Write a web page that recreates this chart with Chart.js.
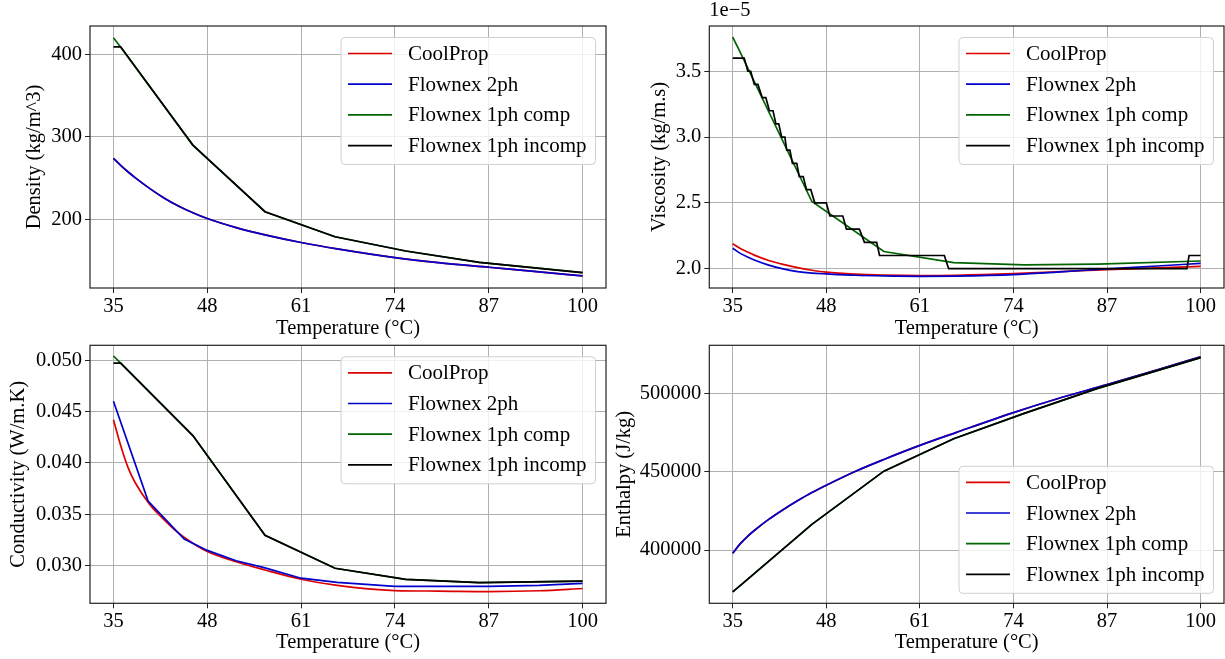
<!DOCTYPE html>
<html>
<head>
<meta charset="utf-8">
<script src="https://cdn.jsdelivr.net/npm/chart.js@4.4.1/dist/chart.umd.min.js"></script>
<style>
  html, body { margin: 0; padding: 0; background: #fff; }
  #wrap { position: relative; width: 1225px; height: 659px; overflow: hidden; }
  canvas { position: absolute; }
</style>
</head>
<body>
<div id="wrap">
  <canvas id="density" width="612" height="345" style="left:0;top:0"></canvas>
  <canvas id="viscosity" width="613" height="345" style="left:612px;top:0"></canvas>
  <canvas id="conductivity" width="612" height="329" style="left:0;top:330px"></canvas>
  <canvas id="enthalpy" width="613" height="329" style="left:612px;top:330px"></canvas>
</div>
<script>
/* temperatures (°C) */
const tempTicks = [35, 48, 61, 74, 87, 100];
const tCurve = [35, 36, 37, 38, 40, 42, 44, 46, 48, 52, 56, 61, 66, 74, 80, 87, 94, 100];
const t1ph = [35, 36, 46, 56, 65.7, 75.5, 85.7, 100];

/* density (kg/m^3) */
const densTicks = [200, 300, 400];
const densCoolProp = [274, 265.5, 257.7, 250.6, 237.6, 226, 216.2, 208, 201, 190, 181.2, 172, 164.3, 153.7, 147.6, 142, 136.5, 131.5];
const dens2ph = [274, 265.5, 257.7, 250.6, 237.6, 226, 216.2, 208, 201, 190, 181.2, 172, 164.3, 153.7, 147.6, 142, 136.5, 131.5];
const dens1phComp = [420, 408.5, 290, 209.3, 179, 161.7, 148, 135.5];
const dens1phIncomp = [409, 409, 290, 209.3, 179, 161.7, 148, 135.5];

/* viscosity (x 1e-5 kg/m.s) */
const viscTicks = [2.0, 2.5, 3.0, 3.5];
const viscCoolProp = [2.19, 2.155, 2.128, 2.103, 2.062, 2.032, 2.008, 1.988, 1.973, 1.958, 1.951, 1.948, 1.95, 1.962, 1.976, 1.993, 2.006, 2.018];
const visc2ph = [2.155, 2.118, 2.09, 2.066, 2.027, 1.998, 1.978, 1.966, 1.96, 1.95, 1.945, 1.942, 1.944, 1.955, 1.974, 1.998, 2.02, 2.04];
const visc1phComp = [3.76, 3.65, 2.51, 2.13, 2.046, 2.028, 2.035, 2.058];
const viscIncompT = [35, 36.6, 37.1, 37.5, 38.0, 38.5, 39.1, 39.6, 40.1, 40.6, 41.0, 41.4, 41.8, 42.25, 42.5, 42.95, 43.3, 43.9, 44.25, 44.8, 45.25, 45.85, 46.4, 48.0, 48.5, 50.3, 50.8, 52.6, 53.3, 55.0, 55.4, 64.4, 65.0, 98.1, 98.4, 100];
const visc1phIncomp = [3.6, 3.6, 3.5, 3.5, 3.4, 3.4, 3.3, 3.3, 3.2, 3.2, 3.1, 3.1, 3.0, 3.0, 2.9, 2.9, 2.8, 2.8, 2.7, 2.7, 2.6, 2.6, 2.5, 2.5, 2.4, 2.4, 2.3, 2.3, 2.2, 2.2, 2.1, 2.1, 2.0, 2.0, 2.1, 2.1];

/* conductivity (W/m.K) */
const condTicks = [0.030, 0.035, 0.040, 0.045, 0.050];
const condCoolProp = [0.0442, 0.0417, 0.0396, 0.0381, 0.036, 0.0345, 0.0332, 0.0322, 0.0314, 0.0304, 0.0296, 0.0287, 0.0281, 0.0276, 0.02755, 0.0275, 0.02758, 0.0278];
const cond2phT = [35, 39.8, 44.8, 48, 52, 56, 61, 66, 74, 80, 87, 94, 100];
const cond2ph = [0.046, 0.0363, 0.0326, 0.0315, 0.0305, 0.0298, 0.0288, 0.0284, 0.028, 0.028, 0.028, 0.0281, 0.0283];
const cond1phComp = [0.0504, 0.0497, 0.04266, 0.03297, 0.02977, 0.02869, 0.02837, 0.02852];
const cond1phIncomp = [0.0497, 0.0497, 0.04266, 0.03297, 0.02977, 0.02869, 0.02837, 0.02852];

/* enthalpy (J/kg) */
const enthTicks = [400000, 450000, 500000];
const enthCoolProp = [397900, 403800, 408500, 412500, 419600, 425800, 431500, 436800, 441500, 450300, 458000, 467000, 475200, 488000, 496700, 505900, 515400, 523800];
const enth2ph = [397900, 403800, 408500, 412500, 419600, 425800, 431500, 436800, 441500, 450300, 458000, 467000, 475200, 488000, 496700, 505900, 515400, 523800];
const enth1phComp = [373200, 377100, 416400, 450500, 471300, 487500, 503500, 523200];
const enth1phIncomp = [373200, 377100, 416400, 450500, 471300, 487500, 503500, 523200];

const FONT = 'Liberation Serif, Times New Roman, serif';
const colors = ['#dd0000', '#0000cd', '#006400', '#000000'];
const names = ['CoolProp', 'Flownex 2ph', 'Flownex 1ph comp', 'Flownex 1ph incomp'];

function pts(xs, ys) {
  return xs.map((x, i) => ({ x: x, y: ys[i] }));
}

function series(i, xs, ys, smooth) {
  return {
    label: names[i],
    data: pts(xs, ys),
    borderColor: colors[i],
    backgroundColor: colors[i],
    borderWidth: 1.7,
    pointRadius: 0,
    cubicInterpolationMode: smooth ? 'monotone' : 'default',
    tension: 0,
    order: 4 - i
  };
}

/* frame, legend box and offset text, drawn like matplotlib */
const mplExtras = {
  id: 'mplExtras',
  afterDatasetsDraw(chart, args, opts) {
    const ctx = chart.ctx;
    const a = chart.chartArea;
    ctx.save();
    ctx.strokeStyle = '#222';
    ctx.lineWidth = 1.2;
    ctx.strokeRect(a.left, a.top, a.right - a.left, a.bottom - a.top);

    if (opts.offsetText) {
      ctx.font = '20.5px ' + FONT;
      ctx.fillStyle = '#000';
      ctx.textAlign = 'left';
      ctx.textBaseline = 'alphabetic';
      ctx.fillText(opts.offsetText, a.left, a.top - 10.5);
    }

    ctx.font = '21px ' + FONT;
    const dsets = chart.data.datasets;
    let tw = 0;
    dsets.forEach(d => { tw = Math.max(tw, ctx.measureText(d.label).width); });
    const w = 67 + tw + 9;
    const h = 127;
    const x0 = a.right - 10.5 - w;
    const y0 = opts.where === 'lower' ? a.bottom - 10 - h : a.top + 11.5;
    ctx.beginPath();
    ctx.roundRect(x0, y0, w, h, 4);
    ctx.fillStyle = 'rgba(255,255,255,0.8)';
    ctx.fill();
    ctx.strokeStyle = '#d0d0d0';
    ctx.lineWidth = 1;
    ctx.stroke();
    ctx.textAlign = 'left';
    ctx.textBaseline = 'middle';
    dsets.forEach((d, i) => {
      const y = y0 + 16 + i * 30.7;
      ctx.beginPath();
      ctx.moveTo(x0 + 7, y);
      ctx.lineTo(x0 + 51, y);
      ctx.strokeStyle = d.borderColor;
      ctx.lineWidth = 1.7;
      ctx.stroke();
      ctx.fillStyle = '#000';
      ctx.fillText(d.label, x0 + 67, y + 1);
    });
    ctx.restore();
  }
};

function makeChart(id, cfg) {
  new Chart(document.getElementById(id), {
    type: 'line',
    data: { datasets: cfg.datasets },
    options: {
      responsive: false,
      animation: false,
      events: [],
      layout: { padding: { top: cfg.top, right: cfg.right, left: 0, bottom: 0 } },
      plugins: {
        legend: { display: false },
        tooltip: { enabled: false },
        mplExtras: { where: cfg.legendAt, offsetText: cfg.offsetText }
      },
      scales: {
        x: {
          type: 'linear',
          min: 31.75,
          max: 103.25,
          afterBuildTicks: s => { s.ticks = tempTicks.map(v => ({ value: v })); },
          afterFit: s => { s.height = cfg.xh; },
          grid: { color: '#b0b0b0', lineWidth: 1, tickColor: '#222', tickLength: 5 },
          border: { display: false },
          ticks: { color: '#000', font: { family: FONT, size: 20.5 }, padding: 1, maxRotation: 0 },
          title: { display: true, text: 'Temperature (°C)', color: '#000', font: { family: FONT, size: 20.5 }, padding: { top: 0, bottom: 4 } }
        },
        y: {
          type: 'linear',
          min: cfg.ymin,
          max: cfg.ymax,
          afterBuildTicks: s => { s.ticks = cfg.yticks.map(v => ({ value: v })); },
          afterFit: s => { s.width = cfg.yw; },
          grid: { color: '#b0b0b0', lineWidth: 1, tickColor: '#222', tickLength: 5 },
          border: { display: false },
          ticks: { color: '#000', font: { family: FONT, size: 20.5 }, padding: 3, callback: cfg.fmt },
          title: { display: true, text: cfg.ytitle, color: '#000', font: { family: FONT, size: 20.5 }, padding: { top: cfg.ytp, bottom: 0 } }
        }
      }
    },
    plugins: [mplExtras]
  });
}

makeChart('density', {
  datasets: [
    series(0, tCurve, densCoolProp, true),
    series(1, tCurve, dens2ph, true),
    series(2, t1ph, dens1phComp, false),
    series(3, t1ph, dens1phIncomp, false)
  ],
  top: 26, right: 6, xh: 57, yw: 90, ytp: 22.7,
  ymin: 116.9, ymax: 434.2, yticks: densTicks,
  fmt: v => String(v),
  ytitle: 'Density (kg/m^3)', legendAt: 'upper'
});

makeChart('viscosity', {
  datasets: [
    series(0, tCurve, viscCoolProp, true),
    series(1, tCurve, visc2ph, true),
    series(2, t1ph, visc1phComp, false),
    series(3, viscIncompT, visc1phIncomp, false)
  ],
  top: 26, right: 1, xh: 57, yw: 97.3, ytp: 35.7,
  ymin: 1.853, ymax: 3.844, yticks: viscTicks,
  fmt: v => v.toFixed(1),
  ytitle: 'Viscosity (kg/m.s)', legendAt: 'upper', offsetText: '1e\u22125'
});

makeChart('conductivity', {
  datasets: [
    series(0, tCurve, condCoolProp, true),
    series(1, cond2phT, cond2ph, false),
    series(2, t1ph, cond1phComp, false),
    series(3, t1ph, cond1phIncomp, false)
  ],
  top: 11.7, right: 6, xh: 55.7, yw: 90, ytp: 6,
  ymin: 0.02636, ymax: 0.05144, yticks: condTicks,
  fmt: v => v.toFixed(3),
  ytitle: 'Conductivity (W/m.K)', legendAt: 'upper'
});

makeChart('enthalpy', {
  datasets: [
    series(0, tCurve, enthCoolProp, true),
    series(1, tCurve, enth2ph, true),
    series(2, t1ph, enth1phComp, false),
    series(3, t1ph, enth1phIncomp, false)
  ],
  top: 11.7, right: 1, xh: 55.7, yw: 97.3, ytp: 0,
  ymin: 365900, ymax: 531100, yticks: enthTicks,
  fmt: v => String(v),
  ytitle: 'Enthalpy (J/kg)', legendAt: 'lower'
});
</script>
</body>
</html>
